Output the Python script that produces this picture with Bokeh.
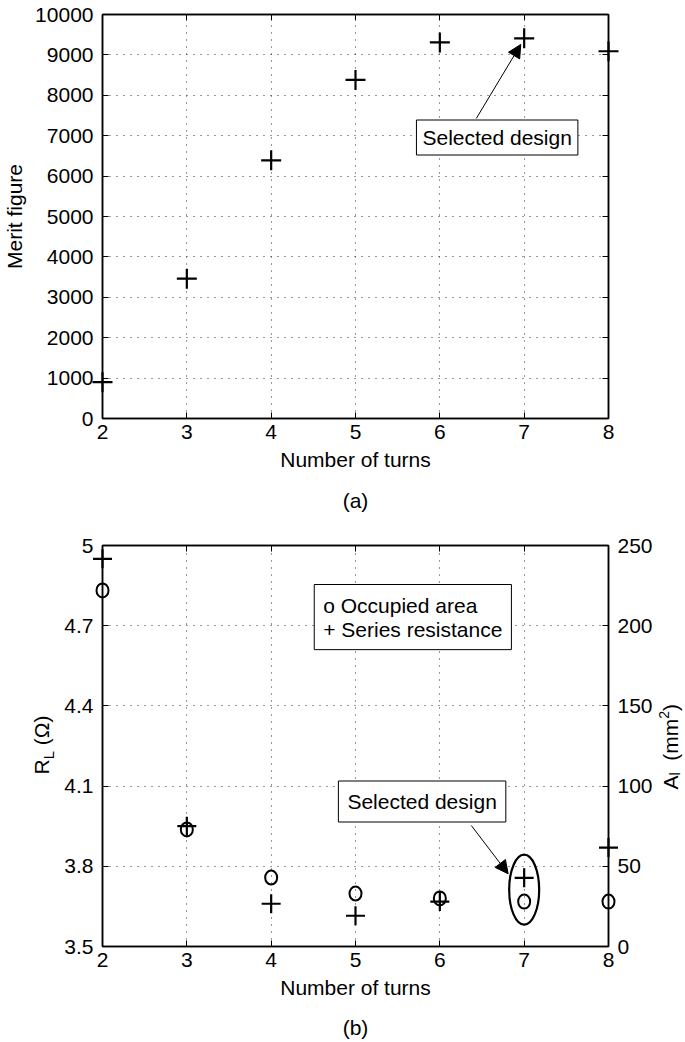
import math

from bokeh.core.properties import value
from bokeh.embed import file_html
from bokeh.layouts import column
from bokeh.models import Arrow, FixedTicker, Label, LinearAxis, NormalHead, Range1d
from bokeh.plotting import figure
from bokeh.resources import INLINE

# ---------------------------------------------------------------- data
turns = [2, 3, 4, 5, 6, 7, 8]
merit_figure = [900, 3460, 6390, 8380, 9310, 9410, 9090]
series_resistance = [4.95, 3.95, 3.66, 3.615, 3.668, 3.757, 3.87]   # ohm
occupied_area = [222, 73, 43, 33, 30, 28, 28]                      # mm^2
selected_turns = 7

turn_ticks = [2, 3, 4, 5, 6, 7, 8]
merit_ticks = [0, 1000, 2000, 3000, 4000, 5000, 6000, 7000, 8000, 9000, 10000]
resistance_ticks = [3.5, 3.8, 4.1, 4.4, 4.7, 5.0]
area_ticks = [0, 50, 100, 150, 200, 250]

# ---------------------------------------------------------------- style
FONT = "Liberation Sans"
FS = "21px"
NBSP = "\u00a0"
W = 685
B_LEFT, B_RIGHT = 99, 77
FRAME_W = W - B_LEFT - B_RIGHT

sel = turns.index(selected_turns)


def style_axis(ax, ticks, show_labels=True, standoff=9):
    ax.ticker = FixedTicker(ticks=ticks)
    ax.axis_line_color = "black"
    ax.axis_line_width = 1.5
    ax.major_tick_in = 6
    ax.major_tick_out = 0
    ax.major_tick_line_color = "black"
    ax.major_tick_line_width = 1
    ax.minor_tick_line_color = None
    ax.major_label_text_font = FONT
    ax.major_label_text_color = "black"
    ax.axis_label_text_font = FONT
    ax.axis_label_text_font_size = FS
    ax.axis_label_text_font_style = "normal"
    ax.axis_label_text_color = "black"
    if show_labels:
        ax.major_label_text_font_size = FS
        ax.major_label_standoff = standoff
    else:
        # tick marks only: the labels are not painted at all
        ax.major_label_text_font_size = "0px"
        ax.major_label_text_color = None
        ax.major_label_standoff = 0


def style_grid(p, xticks, yticks):
    for g, t in ((p.xgrid[0], xticks), (p.ygrid[0], yticks)):
        g.ticker = FixedTicker(ticks=t)
        g.grid_line_color = "#333333"
        g.grid_line_dash = "1 6"
        g.grid_line_width = 1


def make_fig(height, top, bottom, y_range):
    p = figure(width=W, height=height, x_range=Range1d(2, 8), y_range=y_range,
               output_backend="svg", toolbar_location=None,
               min_border_left=B_LEFT, min_border_right=B_RIGHT,
               min_border_top=top, min_border_bottom=bottom)
    p.outline_line_color = "black"
    p.outline_line_width = 1.5
    p.background_fill_color = "white"
    p.border_fill_color = "white"
    return p


def framed_label(p, text, x, y, pad, **kw):
    p.add_layout(Label(x=x, y=y, text=text, text_font=FONT, text_font_size=FS,
                       text_color="black", border_line_color="black", border_line_width=1,
                       background_fill_color="white", padding=pad, **kw))


def free_text(p, text, x, y, size=FS, angle=0.0, align="center", baseline="middle"):
    # text glyph on the overlay level, so it may sit outside the plot frame
    p.text(x=[x], y=[y], text=[text], angle=angle, text_font=value(FONT),
           text_font_size=value(size), text_color="black", text_align=align,
           text_baseline=baseline, level="overlay")


# ======================================================= (a) merit figure
H1, T1, BOT1 = 520, 14, 102
p1 = make_fig(H1, T1, BOT1, Range1d(0, 10000))
fh1 = H1 - T1 - BOT1

style_axis(p1.xaxis[0], turn_ticks, standoff=6)
style_axis(p1.yaxis[0], merit_ticks)
p1.xaxis[0].axis_label = "Number of turns"
p1.xaxis[0].axis_label_standoff = 6
p1.yaxis[0].axis_label = "Merit figure"
p1.yaxis[0].axis_label_standoff = 6
for side, ticks in (("above", turn_ticks), ("right", merit_ticks)):
    ax = LinearAxis()
    style_axis(ax, ticks, show_labels=False)
    p1.add_layout(ax, side)
style_grid(p1, turn_ticks, merit_ticks)

p1.scatter(turns, merit_figure, marker="cross", size=20, line_color="black",
           line_width=2.2, level="overlay")


def xa(px):
    return 2 + (px - B_LEFT) * 6 / FRAME_W


def ya(py):
    return (T1 + fh1 - py) * 10000 / fh1


framed_label(p1, "Selected design", xa(496), ya(137), 6,
             text_align="center", text_baseline="middle")
p1.add_layout(Arrow(end=NormalHead(size=13, fill_color="black", line_color="black", line_width=1),
                    x_start=xa(475), y_start=ya(118),
                    x_end=selected_turns - 0.04, y_end=merit_figure[sel] - 150,
                    line_color="black", line_width=1))
free_text(p1, "(a)", 5, ya(500))

# ================================================== (b) resistance / area
H2, T2, BOT2 = 522, 25, 96
p2 = make_fig(H2, T2, BOT2, Range1d(3.5, 5.0))
fh2 = H2 - T2 - BOT2
OFF = H1  # vertical offset of the second panel on the page

p2.extra_y_ranges = {"area": Range1d(0, 250)}
style_axis(p2.xaxis[0], turn_ticks, standoff=6)
style_axis(p2.yaxis[0], resistance_ticks)
p2.yaxis[0].major_label_overrides = {5: "5"}
p2.xaxis[0].axis_label = "Number of turns"
p2.xaxis[0].axis_label_standoff = 6
area_axis = LinearAxis(y_range_name="area")
style_axis(area_axis, area_ticks)
p2.add_layout(area_axis, "right")
top_axis = LinearAxis()
style_axis(top_axis, turn_ticks, show_labels=False)
p2.add_layout(top_axis, "above")
style_grid(p2, turn_ticks, resistance_ticks)

p2.ellipse(turns, occupied_area, width=12, height=14, width_units="screen",
           height_units="screen", y_range_name="area", fill_color=None,
           line_color="black", line_width=2, level="overlay")
p2.scatter(turns, series_resistance, marker="cross", size=19, line_color="black",
           line_width=2.2, level="overlay")

# ring around the selected design
area_on_r = 3.5 + occupied_area[sel] * 1.5 / 250
p2.ellipse([selected_turns], [(series_resistance[sel] + area_on_r) / 2], width=30, height=70,
           width_units="screen", height_units="screen", fill_color=None,
           line_color="black", line_width=2.2, level="overlay")


def yb(py):
    return 3.5 + (OFF + T2 + fh2 - py) * 1.5 / fh2


framed_label(p2, "o Occupied area\n+ Series resistance", xa(312), yb(584), 9,
             text_align="left", text_baseline="top", text_line_height=1.05)
framed_label(p2, "Selected design", xa(420.5), yb(801), 9,
             text_align="center", text_baseline="middle")
p2.add_layout(Arrow(end=NormalHead(size=13, fill_color="black", line_color="black", line_width=1),
                    x_start=xa(470), y_start=yb(825),
                    x_end=selected_turns - 0.19, y_end=series_resistance[sel] + 0.015,
                    line_color="black", line_width=1))
free_text(p2, "(b)", 5, yb(1027))


def rotated_title(pieces, start_py):
    """Write text pieces bottom-to-top; each piece is (text, size, advance_em, centre_px)."""
    py = start_py
    for text, size, advance, cx in pieces:
        free_text(p2, text, xa(cx), yb(py), size=f"{size}px", angle=math.pi / 2,
                  align="left", baseline="middle")
        py -= advance * size


# left axis title: R with subscript L, then (Ω)
rotated_title([("R", 21, 0.722, 38),
               ("L", 15, 0.556, 45),
               (NBSP + "(Ω)", 21, 0, 38)], 774)

# right axis title: A with subscript l, then (mm²)
rotated_title([("A", 21, 0.667, 670),
               ("l", 14, 0.222, 675),
               (NBSP + NBSP + "(mm", 21, 2.555, 670),
               ("2", 14, 0.556, 664),
               (")", 21, 0, 670)], 789)

page = column(p1, p2, spacing=0)
open("out.html", "w").write(file_html(page, INLINE))
